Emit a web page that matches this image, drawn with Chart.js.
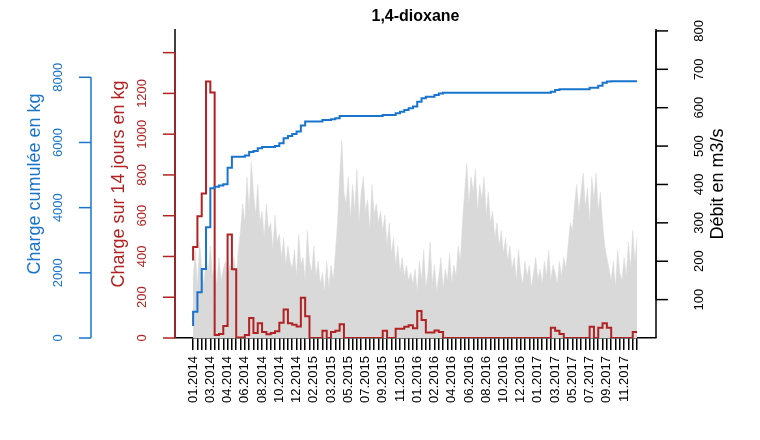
<!DOCTYPE html>
<html><head><meta charset="utf-8">
<script src="https://cdn.jsdelivr.net/npm/chart.js@4/dist/chart.umd.min.js"></script>
<style>html,body{margin:0;padding:0;background:#fff}#w{width:760px;height:440px}</style>
</head><body><div id="w"><canvas id="c"></canvas></div>
<script>
const xLabels=["01.2014","03.2014","04.2014","06.2014","08.2014","10.2014","12.2014","02.2015","03.2015","05.2015","07.2015","09.2015","11.2015","01.2016","02.2016","04.2016","06.2016","08.2016","10.2016","12.2016","01.2017","03.2017","05.2017","07.2017","09.2017","11.2017"];
const xLabelPos=[0,4,8,12,16,20,24,28,32,36,40,44,48,52,56,60,64,68,72,76,80,84,88,92,96,100];
const nPeriods=104;
// charge over 14 days (kg), one value per period
const charge14=[380,446,597,709,1258,1204,15,20,59,508,337,2,2,15,98,25,72,30,18,25,33,75,140,72,65,57,197,107,0,0,0,35,0,30,35,68,
0,0,0,0,0,0,0,0,0,35,0,0,45,45,55,62,48,132,88,27,27,37,30,0,
0,0,0,0,0,0,0,0,0,0,0,0,0,0,0,0,0,0,0,0,0,0,0,0,50,36,20,0,0,0,0,0,0,55,0,50,72,50,0,0,0,0,0,30];
// cumulative charge (kg)
const chargeCum=[368,808,1402,2118,3397,4594,4645,4680,4715,5228,5565,5565,5565,5600,5708,5740,5820,5862,5862,5862,5895,5975,6128,6200,6260,6333,6517,6640,6640,6640,6640,6690,6690,6710,6740,6813,
6813,6813,6813,6813,6813,6813,6813,6813,6813,6845,6845,6845,6895,6945,7000,7050,7100,7252,7355,7406,7406,7457,7500,7529,
7529,7529,7529,7529,7529,7529,7529,7529,7529,7529,7529,7529,7529,7529,7529,7529,7529,7529,7529,7529,7529,7529,7529,7529,7560,7611,7630,7630,7630,7630,7630,7630,7630,7682,7682,7743,7835,7870,7880,7880,7880,7880,7880,7880];
// discharge (m3/s), weekly
const debit=[150,230,130,250,180,140,210,170,240,160,190,140,210,150,180,200,160,190,170,210,150,230,
280,350,300,420,330,460,380,320,400,300,
330,260,350,280,300,230,320,250,270,210,260,190,240,200,
180,230,160,270,190,210,150,280,200,170,240,160,200,140,
170,120,200,130,190,150,220,
300,420,515,380,
350,420,310,400,330,440,300,380,420,330,360,280,400,320,350,300,330,
280,320,240,300,220,260,190,240,170,210,160,190,150,170,
140,180,120,200,150,230,130,170,250,140,190,120,160,210,130,180,150,220,140,190,160,240,200,
300,380,455,350,420,380,440,330,400,360,420,320,380,300,
330,260,300,240,280,220,260,200,240,
180,210,150,230,170,140,200,160,190,130,170,210,150,180,140,200,160,230,150,190,170,140,200,160,210,180,
240,300,280,350,
400,330,380,430,340,390,300,420,360,430,330,380,
300,240,210,180,
150,200,130,230,170,150,210,160,250,180,280,200,260];
const redTicks=[0,200,400,600,800,1000,1200,1400];
const redLabels=["0","200","400","600","800","1000","1200",""];
const blueTicks=[0,2000,4000,6000,8000];
const rightTicks=[100,200,300,400,500,600,700,800];

const RED='#b22222', BLUE='#1874cd', GREY='#d9d9d9';
const FONT='"Liberation Sans", Arial, sans-serif';

const axesPlugin={id:'axes',afterDraw(ch){
  const c=ch.ctx, yR=ch.scales.yRed, yB=ch.scales.yBlue, yQ=ch.scales.yQ, a=ch.chartArea;
  c.save();c.lineWidth=1.5;
  c.strokeStyle='#000';c.beginPath();c.moveTo(a.left,a.top);c.lineTo(a.left,a.bottom);c.stroke();
  function vaxis(scale,ticks,labels,x,dir,color,labX,title,titX){
    c.strokeStyle=color;c.fillStyle=color;
    c.beginPath();c.moveTo(x,scale.getPixelForValue(ticks[0]));c.lineTo(x,scale.getPixelForValue(ticks[ticks.length-1]));c.stroke();
    c.font='13px '+FONT;c.textAlign='center';c.textBaseline='middle';
    ticks.forEach((t,i)=>{const y=scale.getPixelForValue(t);
      c.beginPath();c.moveTo(x,y);c.lineTo(x+dir*12,y);c.stroke();
      c.save();c.translate(labX,y);c.rotate(-Math.PI/2);c.fillText(labels[i],0,0);c.restore();});
    c.save();c.font='18px '+FONT;c.translate(titX,184);c.rotate(-Math.PI/2);c.fillText(title,0,0);c.restore();
  }
  vaxis(yR,redTicks,redLabels,a.left,-1,RED,142,'Charge sur 14 jours en kg',119);
  vaxis(yB,blueTicks,blueTicks.map(String),91,-1,BLUE,58,'Charge cumulée en kg',35);
  vaxis(yQ,rightTicks,rightTicks.map(String),a.right,1,'#000',699,'Débit en m3/s',718);
  c.strokeStyle='#000';c.beginPath();c.moveTo(a.right,a.top);c.lineTo(a.right,a.bottom);c.stroke();
  c.fillStyle='#000';c.font='bold 16px '+FONT;c.textAlign='center';c.textBaseline='middle';
  c.fillText('1,4-dioxane',(a.left+a.right)/2,17);
  c.restore();
}};

new Chart(document.getElementById('c'),{
  type:'line',
  data:{datasets:[
    {label:'cum',data:chargeCum.map((v,i)=>({x:i,y:v})),yAxisID:'yBlue',borderColor:BLUE,borderWidth:2,stepped:'after',pointRadius:0,order:1},
    {label:'c14',data:charge14.map((v,i)=>({x:i,y:v})),yAxisID:'yRed',borderColor:RED,borderWidth:2,stepped:'after',pointRadius:0,order:2},
    {label:'q',data:debit.map((v,i)=>({x:i/2,y:v})),yAxisID:'yQ',borderColor:GREY,borderWidth:0.5,backgroundColor:GREY,fill:'origin',pointRadius:0,order:3}
  ]},
  options:{
    responsive:true,maintainAspectRatio:false,animation:false,
    layout:{padding:{left:175,right:104,top:29,bottom:0}},
    plugins:{legend:{display:false},tooltip:{enabled:false},title:{display:false}},
    scales:{
      x:{type:'linear',min:-4.2,max:107.4,position:'bottom',
        afterBuildTicks:s=>{s.ticks=Array.from({length:nPeriods},(_,i)=>({value:i}));},
        afterFit:s=>{s.height=102;},
        grid:{drawOnChartArea:false,tickLength:12,color:'#000',lineWidth:1.5},
        border:{color:'#000',width:1.5},
        ticks:{autoSkip:false,minRotation:90,maxRotation:90,padding:6,color:'#000',font:{size:13,family:FONT},
          callback:v=>{const k=xLabelPos.indexOf(v);return k>=0?xLabels[k]:'';}}},
      yRed:{display:false,min:0,max:1516},
      yBlue:{display:false,min:0,max:9482},
      yQ:{display:false,min:0,max:805}
    }
  },
  plugins:[axesPlugin]
});
</script></body></html>
